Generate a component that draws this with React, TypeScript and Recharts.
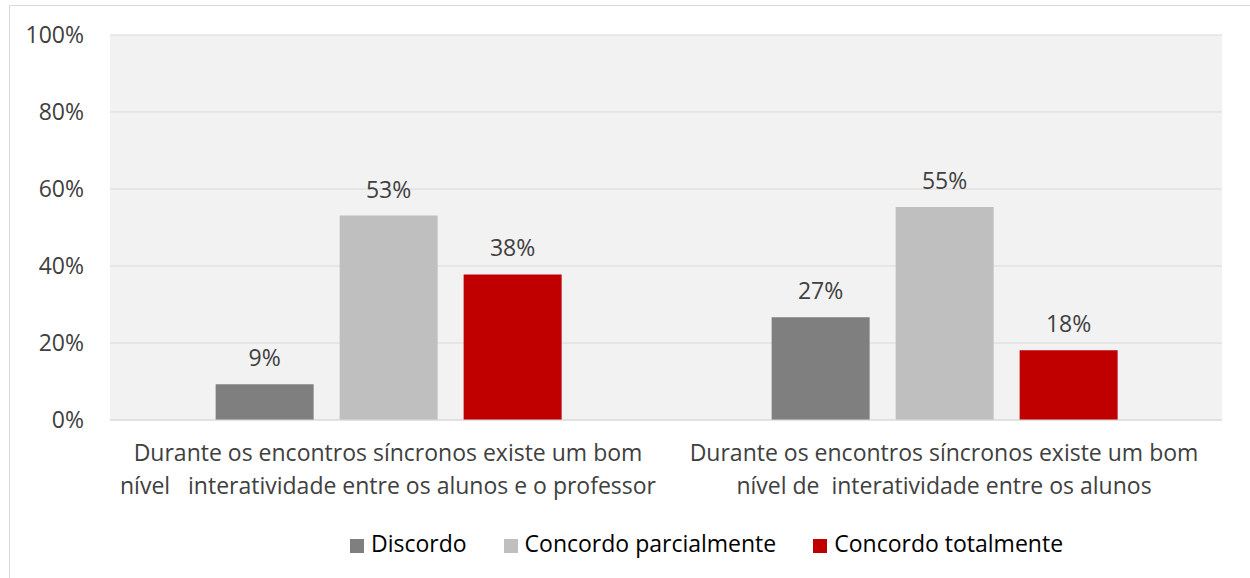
import React from 'react';
import { BarChart, Bar, XAxis, YAxis, CartesianGrid, Legend, LabelList } from 'recharts';

const categoryLines = [
  ['Durante os encontros síncronos existe um bom', 'nível   interatividade entre os alunos e o professor'],
  ['Durante os encontros síncronos existe um bom', 'nível de  interatividade entre os alunos'],
];
const discordo = [0.093, 0.267];
const parcial = [0.531, 0.553];
const totalmente = [0.378, 0.181];
const yTicks = [0, 0.2, 0.4, 0.6, 0.8, 1];

const data = categoryLines.map((lines, i) => ({
  name: lines.join(' '),
  discordo: discordo[i],
  parcial: parcial[i],
  totalmente: totalmente[i],
}));

const FONT = '"Open Sans", sans-serif';
const pct = (v: number) => `${Math.round(v * 100)}%`;

const CategoryTick = (props: any) => {
  const { x, y, payload } = props;
  const lines = categoryLines[payload.index] || [payload.value];
  return (
    <text x={x} y={y} textAnchor="middle" fill="#404040" fontSize={23} fontFamily={FONT} style={{ whiteSpace: 'pre' }}>
      {lines.map((l, i) => (
        <tspan key={i} x={x} dy={i === 0 ? 41 : 33}>{l}</tspan>
      ))}
    </text>
  );
};

const labelProps = { position: 'top' as const, offset: 18, formatter: (v: any) => pct(v), fill: '#404040', fontSize: 23, fontFamily: FONT };

export default function App() {
  return (
    <div style={{ position: 'absolute', left: 0, top: 0, width: 1250, height: 578, background: '#fff', overflow: 'hidden' }}>
      <div style={{ position: 'absolute', left: 9, top: 5, width: 1300, height: 700, border: '1px solid #d9d9d9' }} />
      <BarChart
        width={1250}
        height={578}
        data={data}
        margin={{ top: 35, right: 28, left: 10, bottom: 36 }}
        barCategoryGap="19%"
        barGap={26}
        style={{ position: 'absolute', left: 0, top: 0 }}
      >
        <CartesianGrid vertical={false} fill="#f2f2f2" stroke="#d9d9d9" />
        <XAxis dataKey="name" tick={<CategoryTick />} tickLine={false} tickSize={0} tickMargin={0} height={90} axisLine={{ stroke: '#d9d9d9' }} interval={0} />
        <YAxis
          domain={[0, 1]}
          ticks={yTicks}
          tickFormatter={pct}
          axisLine={false}
          tickLine={false}
          tickSize={0}
          tickMargin={26}
          width={100}
          tick={{ fill: '#404040', fontSize: 23, fontFamily: FONT }}
        />
        <Legend
          verticalAlign="bottom"
          iconType="square"
          iconSize={14}
          itemSorter="dataKey"
          wrapperStyle={{ fontFamily: FONT, fontSize: 23, color: '#000', bottom: 19, left: 119 }}
          formatter={(value: any) => <span style={{ color: '#000', marginLeft: 3, marginRight: 27 }}>{value}</span>}
        />
        <Bar dataKey="discordo" name="Discordo" fill="#7f7f7f" isAnimationActive={false}>
          <LabelList dataKey="discordo" {...labelProps} />
        </Bar>
        <Bar dataKey="parcial" name="Concordo parcialmente" fill="#bfbfbf" isAnimationActive={false}>
          <LabelList dataKey="parcial" {...labelProps} />
        </Bar>
        <Bar dataKey="totalmente" name="Concordo totalmente" fill="#c00000" isAnimationActive={false}>
          <LabelList dataKey="totalmente" {...labelProps} />
        </Bar>
      </BarChart>
    </div>
  );
}
